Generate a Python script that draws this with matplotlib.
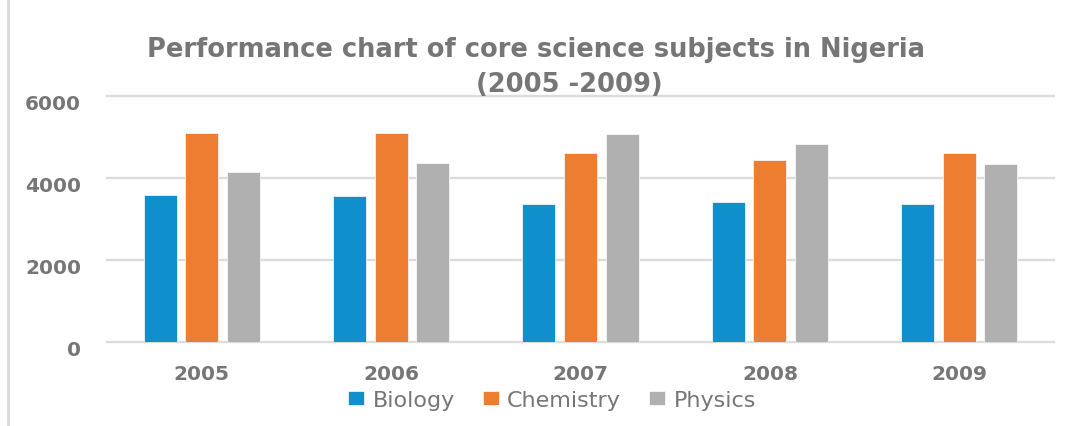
import matplotlib
matplotlib.use("Agg")
import matplotlib.pyplot as plt
import matplotlib.transforms as mtransforms
import numpy as np
from matplotlib.lines import Line2D

years = ["2005", "2006", "2007", "2008", "2009"]
biology = [3570, 3560, 3350, 3400, 3370]
chemistry = [5090, 5090, 4600, 4430, 4600]
physics = [4150, 4370, 5070, 4820, 4330]
series_names = ["Biology", "Chemistry", "Physics"]
colors = ["#0f8fcb", "#ed7d31", "#b0b0b0"]
yticks = [0, 2000, 4000, 6000]

txt = "#767676"
plt.rcParams['font.family'] = ['DejaVu Sans']

W, H = 1072, 427
fig = plt.figure(figsize=(W/100, H/100), dpi=100)
top_px, bot_px = 96.7, 343
ax = fig.add_axes([107/W, 1-bot_px/H, (1054-107)/W, (bot_px-top_px)/H])

x = np.arange(len(years))
w = 0.174
off = 0.22
for i, (vals, name, c) in enumerate(zip([biology, chemistry, physics], series_names, colors)):
    ax.bar(x + (i-1)*off, vals, width=w, color=c, label=name, zorder=3,
           edgecolor='white', linewidth=0.5)

ax.set_xlim(-0.5, len(years)-0.5)
ax.set_ylim(0, 6000)
ax.set_yticks(yticks)
ax.set_yticklabels([str(t) for t in yticks], fontsize=14.5, fontweight='bold', color=txt)
ax.set_xticks(x)
ax.set_xticklabels(years, fontsize=14.5, fontweight='bold', color=txt)
ax.tick_params(length=0, axis='y', pad=18.7)
ax.tick_params(length=0, axis='x', pad=16)
shift = mtransforms.ScaledTranslation(0, -6/100, fig.dpi_scale_trans)
for lab in ax.get_yticklabels():
    lab.set_transform(lab.get_transform() + shift)
ax.grid(axis='y', color='#dcdcdc', linewidth=1.7, zorder=0)
for gl in ax.get_ygridlines():
    gl.set_clip_on(False)
for s in ax.spines.values():
    s.set_visible(False)

fig.text(536/W, 1-56.7/H, "Performance chart of core science subjects in Nigeria",
         ha='center', va='baseline', fontsize=18.5, fontweight='bold', color=txt)
fig.text(569/W, 1-91.5/H, "(2005 -2009)",
         ha='center', va='baseline', fontsize=18.5, fontweight='bold', color=txt)

leg = fig.legend(loc='center', bbox_to_anchor=(552/W, 1-401/H), ncol=3, frameon=False,
                 fontsize=16, handlelength=0.72, handleheight=0.57, handletextpad=0.38,
                 columnspacing=1.26, labelcolor=txt, borderpad=0)

fig.add_artist(Line2D([8/W, 8/W], [0, 1], color='#d9d9d9', linewidth=2, transform=fig.transFigure))

fig.savefig("out.png", dpi=100)
